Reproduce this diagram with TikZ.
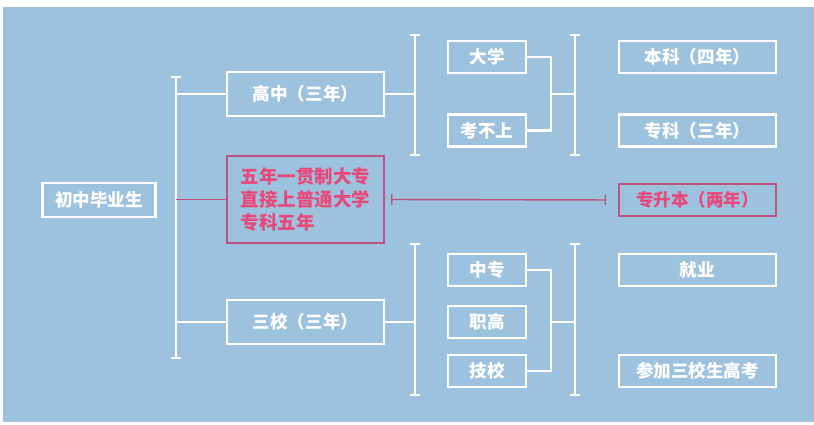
\documentclass[tikz,border=0pt]{standalone}
\usepackage{fontspec}
\setmainfont{Noto Sans CJK SC}[BoldFont={Noto Sans CJK SC Black}]
\usepackage{xcolor}
\usepackage{tikz}
\usetikzlibrary{arrows.meta, positioning, calc}
\definecolor{bgblue}{RGB}{157,194,222}
\definecolor{ptext}{RGB}{232,72,122}
\definecolor{pline}{RGB}{190,80,130}
\def\u{0.02cm}

\begin{document}
\begin{tikzpicture}[x=0.02cm, y=-0.02cm, font=\fontsize{10}{12}\selectfont\bfseries,
  wbox/.style={draw=white, line width=1.2pt, text=white, inner sep=0pt},
  pbox/.style={draw=pline, line width=1.2pt, text=ptext, inner sep=0pt},
  small/.style={minimum width=78*\u, minimum height=32*\u},
  big/.style={minimum width=157*\u, minimum height=32*\u},
  tall/.style={minimum width=157*\u, minimum height=44*\u},
  link/.style={draw=white, line width=1.2pt},
  plink/.style={draw=pline, line width=0.8pt},
  brk/.style={draw=white, line width=1.2pt, {Bar[width=6pt]}-{Bar[width=6pt]}}]
  \fill[white] (0,0) rectangle (814,425);
  \fill[bgblue] (3,7) rectangle (814,422);

  % left column
  \node[wbox, minimum width=113*\u, minimum height=34*\u] (chuzhong) at (99,200) {初中毕业生};
  \node[wbox, tall] (gaozhong) at (305.5,94) {高中（三年）};
  \node[pbox, minimum width=157*\u, minimum height=87*\u, align=left,
    font=\fontsize{10.5}{13}\selectfont\bfseries] (wunian) at (305.5,199.5) {五年一贯制大专\\直接上普通大学\\专科五年};
  \node[wbox, tall] (sanxiao) at (305.5,322) {三校（三年）};

  % middle column
  \node[wbox, small] (daxue) at (487,57) {大学};
  \node[wbox, small] (kaobushang) at (487,130.5) {考不上};
  \node[wbox, small] (zhongzhuan) at (487,270) {中专};
  \node[wbox, small] (zhigao) at (487,322) {职高};
  \node[wbox, small] (jixiao) at (487,371) {技校};

  % right column
  \node[wbox, big] (benke) at (697.5,57) {本科（四年）};
  \node[wbox, big] (zhuanke) at (697.5,130.5) {专科（三年）};
  \node[pbox, big] (zhuanshengben) at (697.5,200) {专升本（两年）};
  \node[wbox, big] (jiuye) at (697.5,270) {就业};
  \node[wbox, big] (gaokao) at (697.5,371) {参加三校生高考};

  % brackets
  \coordinate (b1t) at (176,76);  \coordinate (b1b) at (176,359);
  \coordinate (b2t) at (415,34);  \coordinate (b2b) at (415,156);
  \coordinate (b3t) at (415,243); \coordinate (b3b) at (415,396);
  \coordinate (b4t) at (575,34);  \coordinate (b4b) at (575,156);
  \coordinate (b5t) at (575,243); \coordinate (b5b) at (575,396);
  \foreach \t/\b in {b1t/b1b, b2t/b2b, b3t/b3b, b4t/b4b, b5t/b5b}
    \draw[brk] (\t) -- (\b);

  \draw[link] (gaozhong.west) -- (gaozhong.west -| b1t);
  \draw[link] (sanxiao.west) -- (sanxiao.west -| b1t);
  \draw[plink] (wunian.west) -- (wunian.west -| b1t);
  \draw[link] (gaozhong.east) -- (gaozhong.east -| b2t);
  \draw[link] (sanxiao.east) -- (sanxiao.east -| b3t);

  % merges
  \coordinate (m1) at (551,94);
  \coordinate (m2) at (551,322);
  \draw[link] (daxue.east) -| (m1) |- (kaobushang.east);
  \draw[link] (m1) -- (m1 -| b4t);
  \draw[link] (zhongzhuan.east) -| (m2) |- (jixiao.east);
  \draw[link] (m2) -- (m2 -| b5t);

  % pink bridge
  \draw[plink, {Bar[width=6pt]}-{Bar[width=6pt]}, shorten <=6*\u, shorten >=12*\u]
    (wunian.east) -- (zhuanshengben.west);
\end{tikzpicture}
\end{document}
